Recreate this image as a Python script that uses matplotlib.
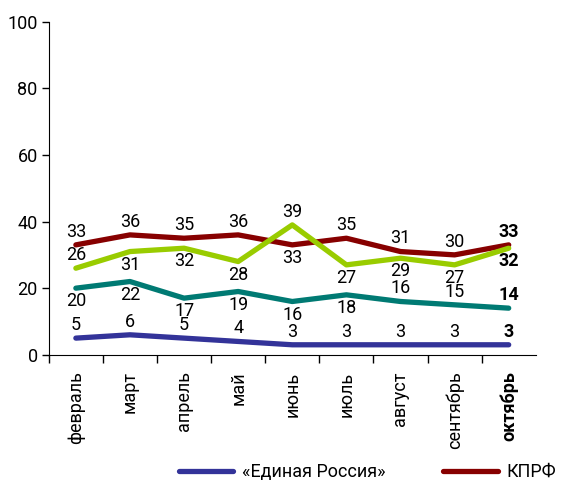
import matplotlib
matplotlib.use("Agg")
import matplotlib.pyplot as plt
from matplotlib.lines import Line2D

months = ["февраль", "март", "апрель", "май", "июнь", "июль", "август", "сентябрь", "октябрь"]
kprf = [33, 36, 35, 36, 33, 35, 31, 30, 33]
green = [26, 31, 32, 28, 39, 27, 29, 27, 32]
teal = [20, 22, 17, 19, 16, 18, 16, 15, 14]
er = [5, 6, 5, 4, 3, 3, 3, 3, 3]

# +1 label above the point, -1 below
kprf_pos = [1, 1, 1, 1, -1, 1, 1, 1, 1]
green_pos = [1, -1, -1, -1, 1, -1, -1, -1, -1]
teal_pos = [-1, -1, -1, -1, -1, -1, 1, 1, 1]
er_pos = [1] * 9

yticks = [0, 20, 40, 60, 80, 100]


def main():
    plt.rcParams['font.family'] = ['Roboto', 'DejaVu Sans']
    fig = plt.figure(figsize=(5.61, 4.84), dpi=100)
    ax = fig.add_axes([0.087, 0.267, 0.868, 0.688])

    series = [
        (kprf, kprf_pos, "#870000"),
        (green, green_pos, "#99cc00"),
        (teal, teal_pos, "#007a73"),
        (er, er_pos, "#333399"),
    ]
    x = list(range(len(months)))
    for vals, pos, col in series:
        ax.plot(x, vals, color=col, lw=3.8, solid_capstyle='round',
                solid_joinstyle='round')
        for i, (v, p) in enumerate(zip(vals, pos)):
            bold = i == len(months) - 1
            ax.annotate(str(v), xy=(i, v), xytext=(0, 9.5 * p),
                        textcoords='offset points', ha='center', va='center',
                        fontsize=13, fontweight='bold' if bold else 'normal')

    ax.set_xlim(-0.5, 8.5)
    ax.set_ylim(0, 100)
    ax.set_yticks(yticks)
    ax.set_xticks(x)
    ax.set_xticklabels(months, rotation=90, fontsize=13)
    ax.get_xticklabels()[-1].set_fontweight('bold')
    ax.set_xticks([i - 0.5 for i in x], minor=True)
    ax.tick_params(axis='x', which='major', length=0, pad=12)
    ax.tick_params(axis='x', which='minor', length=6, width=1)
    ax.tick_params(axis='y', length=5, width=1, labelsize=13, pad=3)
    for s in ['top', 'right']:
        ax.spines[s].set_visible(False)

    handles = [Line2D([], [], color="#333399", lw=3.8, solid_capstyle='round'),
               Line2D([], [], color="#870000", lw=3.8, solid_capstyle='round')]
    fig.legend(handles, ["«Единая Россия»", "КПРФ"], loc='center',
               bbox_to_anchor=(0.655, 0.025), ncol=2, frameon=False,
               fontsize=13, handlelength=3.0, columnspacing=3.2,
               handletextpad=0.5)

    fig.savefig("out.png", dpi=100)


if __name__ == "__main__":
    main()
